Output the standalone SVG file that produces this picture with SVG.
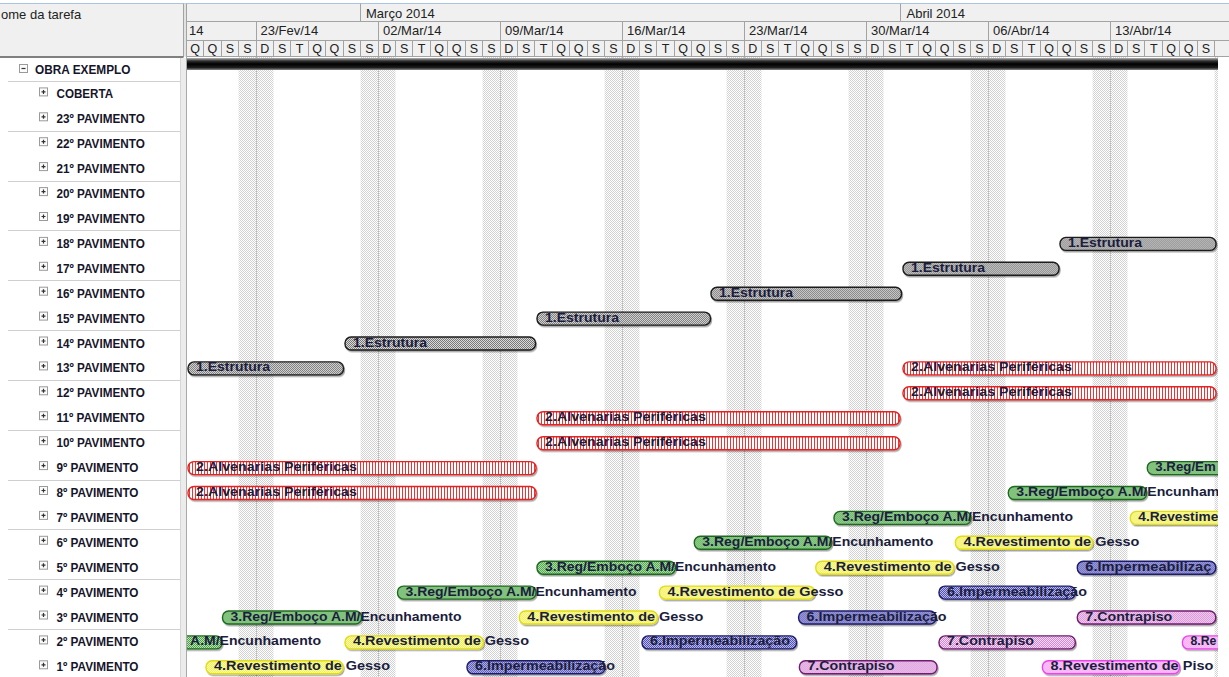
<svg xmlns="http://www.w3.org/2000/svg" width="1229" height="677" viewBox="0 0 1229 677">
<defs>
<style>
.hd{font-family:"Liberation Sans",Arial,sans-serif;font-size:13px;fill:#222}
.dy{font-family:"Liberation Sans",Arial,sans-serif;font-size:12.5px;fill:#222;text-anchor:middle}
.task{font-family:"Liberation Sans",Arial,sans-serif;font-size:12.5px;font-weight:bold;fill:#15152a}
.btn{fill:#fbfbfb;stroke:#9a9a9a;stroke-width:1}
.pm{stroke:#333;stroke-width:1.2;fill:none}
.grid{stroke:#cfcfcf;stroke-width:1}
.hl{stroke:#a3a3a3;stroke-width:1;fill:none}
.wk{fill:url(#pWk)}
.wkl{stroke:#b4b4b4;stroke-width:1;stroke-dasharray:1 1}
.bar rect{stroke-width:1.4;filter:url(#sh)}
.bar text{font-family:"Liberation Sans",Arial,sans-serif;font-size:13.5px;font-weight:bold;fill:#1b1d3d}
.est rect{fill:url(#pEst);stroke:#1c1c1c}
.alv rect{fill:url(#pRed);stroke:#e82020}
.reg rect{fill:url(#pGrn);stroke:#1f6a1f}
.ges rect{fill:url(#pYel);stroke:#e2dc14}
.imp rect{fill:url(#pBlu);stroke:#1e1e6a}
.con rect{fill:url(#pCon);stroke:#701c70}
.pis rect{fill:url(#pPis);stroke:#f040f0}
</style>
<pattern id="pWk" width="2" height="2" patternUnits="userSpaceOnUse"><rect width="2" height="2" fill="#fff"/><rect width="1" height="1" fill="#d2d2d2"/><rect x="1" y="1" width="1" height="1" fill="#d2d2d2"/></pattern>
<pattern id="pEst" width="2" height="2" patternUnits="userSpaceOnUse"><rect width="2" height="2" fill="#dadada"/><rect width="1" height="1" fill="#787878"/><rect x="1" y="1" width="1" height="1" fill="#787878"/></pattern>
<pattern id="pRed" width="3" height="2" patternUnits="userSpaceOnUse"><rect width="3" height="2" fill="#fff"/><rect x="1" width="1" height="2" fill="#f03030"/></pattern>
<pattern id="pGrn" width="2" height="2" patternUnits="userSpaceOnUse"><rect width="2" height="2" fill="#c8ecc0"/><rect width="1" height="1" fill="#3a9a3a"/><rect x="1" y="1" width="1" height="1" fill="#3a9a3a"/></pattern>
<pattern id="pYel" width="2" height="2" patternUnits="userSpaceOnUse"><rect width="2" height="2" fill="#ffffc8"/><rect width="1" height="1" fill="#ecec3c"/><rect x="1" y="1" width="1" height="1" fill="#ecec3c"/></pattern>
<pattern id="pBlu" width="2" height="2" patternUnits="userSpaceOnUse"><rect width="2" height="2" fill="#c4c4f4"/><rect width="1" height="1" fill="#4a4aaa"/><rect x="1" y="1" width="1" height="1" fill="#4a4aaa"/></pattern>
<pattern id="pCon" width="2" height="2" patternUnits="userSpaceOnUse"><rect width="2" height="2" fill="#fde4fd"/><rect width="1" height="1" fill="#cc80cc"/><rect x="1" y="1" width="1" height="1" fill="#cc80cc"/></pattern>
<pattern id="pPis" width="2" height="2" patternUnits="userSpaceOnUse"><rect width="2" height="2" fill="#ffe6ff"/><rect width="1" height="1" fill="#f08cf0"/><rect x="1" y="1" width="1" height="1" fill="#f08cf0"/></pattern>
<linearGradient id="gSum" x1="0" y1="0" x2="0" y2="1">
<stop offset="0" stop-color="#b4b4b4"/><stop offset="0.25" stop-color="#303030"/><stop offset="0.5" stop-color="#000"/><stop offset="0.8" stop-color="#1e1e1e"/><stop offset="1" stop-color="#8c8c8c"/>
</linearGradient>
<filter id="sh" x="-5%" y="-30%" width="110%" height="170%"><feDropShadow dx="1" dy="1.5" stdDeviation="0.4" flood-color="#000" flood-opacity="0.35"/></filter>
<clipPath id="chartClip"><rect x="187" y="56" width="1031" height="621"/></clipPath>
</defs>

<rect width="1229" height="677" fill="#fff"/>

<!-- column headers and timescale -->
<g id="header">
<rect x="0" y="3" width="1229" height="53.5" fill="#f0f0f0"/>
<line x1="0" y1="3.5" x2="1229" y2="3.5" stroke="#a9c4e2"/>
<rect x="183.5" y="3.5" width="3" height="53" fill="#e2e2e2"/>
<line class="hl" x1="183.5" y1="3.5" x2="183.5" y2="57"/>
<rect x="0" y="56" width="183.5" height="2" fill="#808080"/>
<text class="hd" x="1" y="18.5">ome da tarefa</text>
<path class="hl" d="M186.5 3.5V56.5M186.5 21.5H1229M186.5 40.5H1229M186.5 56.5H1229"/>
<path class="hl" d="M360.5 3.5V21.5M900.5 3.5V21.5"/>
<path class="hl" d="M256.5 21.5V40.5M378.5 21.5V40.5M500.5 21.5V40.5M622.5 21.5V40.5M744.5 21.5V40.5M866.5 21.5V40.5M988.5 21.5V40.5M1110.5 21.5V40.5"/>
<path class="hl" d="M203.5 40.5V56.5M221.5 40.5V56.5M238.5 40.5V56.5M256.5 40.5V56.5M273.5 40.5V56.5M290.5 40.5V56.5M308.5 40.5V56.5M325.5 40.5V56.5M343.5 40.5V56.5M360.5 40.5V56.5M378.5 40.5V56.5M395.5 40.5V56.5M412.5 40.5V56.5M430.5 40.5V56.5M447.5 40.5V56.5M465.5 40.5V56.5M482.5 40.5V56.5M500.5 40.5V56.5M517.5 40.5V56.5M534.5 40.5V56.5M552.5 40.5V56.5M569.5 40.5V56.5M587.5 40.5V56.5M604.5 40.5V56.5M622.5 40.5V56.5M639.5 40.5V56.5M656.5 40.5V56.5M674.5 40.5V56.5M691.5 40.5V56.5M709.5 40.5V56.5M726.5 40.5V56.5M744.5 40.5V56.5M761.5 40.5V56.5M778.5 40.5V56.5M796.5 40.5V56.5M813.5 40.5V56.5M831.5 40.5V56.5M848.5 40.5V56.5M866.5 40.5V56.5M883.5 40.5V56.5M900.5 40.5V56.5M918.5 40.5V56.5M935.5 40.5V56.5M953.5 40.5V56.5M970.5 40.5V56.5M988.5 40.5V56.5M1005.5 40.5V56.5M1022.5 40.5V56.5M1040.5 40.5V56.5M1057.5 40.5V56.5M1075.5 40.5V56.5M1092.5 40.5V56.5M1110.5 40.5V56.5M1127.5 40.5V56.5M1144.5 40.5V56.5M1162.5 40.5V56.5M1179.5 40.5V56.5M1197.5 40.5V56.5M1214.5 40.5V56.5"/>
<text class="hd" x="366" y="17.5">Março 2014</text>
<text class="hd" x="906.5" y="17.5">Abril 2014</text>
<text class="hd" x="189" y="35">14</text>
<text class="hd" x="260.5" y="35">23/Fev/14</text>
<text class="hd" x="383" y="35">02/Mar/14</text>
<text class="hd" x="505" y="35">09/Mar/14</text>
<text class="hd" x="627" y="35">16/Mar/14</text>
<text class="hd" x="749" y="35">23/Mar/14</text>
<text class="hd" x="871" y="35">30/Mar/14</text>
<text class="hd" x="993" y="35">06/Abr/14</text>
<text class="hd" x="1115" y="35">13/Abr/14</text>
<g id="day-letters">
<text class="dy" x="195" y="52.5">Q</text><text class="dy" x="212.4" y="52.5">Q</text><text class="dy" x="229.9" y="52.5">S</text><text class="dy" x="247.3" y="52.5">S</text>
<text class="dy" x="264.7" y="52.5">D</text><text class="dy" x="282.2" y="52.5">S</text><text class="dy" x="299.6" y="52.5">T</text><text class="dy" x="317" y="52.5">Q</text><text class="dy" x="334.4" y="52.5">Q</text><text class="dy" x="351.9" y="52.5">S</text><text class="dy" x="369.3" y="52.5">S</text>
<text class="dy" x="386.7" y="52.5">D</text><text class="dy" x="404.2" y="52.5">S</text><text class="dy" x="421.6" y="52.5">T</text><text class="dy" x="439" y="52.5">Q</text><text class="dy" x="456.5" y="52.5">Q</text><text class="dy" x="473.9" y="52.5">S</text><text class="dy" x="491.3" y="52.5">S</text>
<text class="dy" x="508.7" y="52.5">D</text><text class="dy" x="526.2" y="52.5">S</text><text class="dy" x="543.6" y="52.5">T</text><text class="dy" x="561" y="52.5">Q</text><text class="dy" x="578.5" y="52.5">Q</text><text class="dy" x="595.9" y="52.5">S</text><text class="dy" x="613.3" y="52.5">S</text>
<text class="dy" x="630.8" y="52.5">D</text><text class="dy" x="648.2" y="52.5">S</text><text class="dy" x="665.6" y="52.5">T</text><text class="dy" x="683" y="52.5">Q</text><text class="dy" x="700.5" y="52.5">Q</text><text class="dy" x="717.9" y="52.5">S</text><text class="dy" x="735.3" y="52.5">S</text>
<text class="dy" x="752.8" y="52.5">D</text><text class="dy" x="770.2" y="52.5">S</text><text class="dy" x="787.6" y="52.5">T</text><text class="dy" x="805.1" y="52.5">Q</text><text class="dy" x="822.5" y="52.5">Q</text><text class="dy" x="839.9" y="52.5">S</text><text class="dy" x="857.3" y="52.5">S</text>
<text class="dy" x="874.8" y="52.5">D</text><text class="dy" x="892.2" y="52.5">S</text><text class="dy" x="909.6" y="52.5">T</text><text class="dy" x="927.1" y="52.5">Q</text><text class="dy" x="944.5" y="52.5">Q</text><text class="dy" x="961.9" y="52.5">S</text><text class="dy" x="979.4" y="52.5">S</text>
<text class="dy" x="996.8" y="52.5">D</text><text class="dy" x="1014.2" y="52.5">S</text><text class="dy" x="1031.6" y="52.5">T</text><text class="dy" x="1049.1" y="52.5">Q</text><text class="dy" x="1066.5" y="52.5">Q</text><text class="dy" x="1083.9" y="52.5">S</text><text class="dy" x="1101.4" y="52.5">S</text>
<text class="dy" x="1118.8" y="52.5">D</text><text class="dy" x="1136.2" y="52.5">S</text><text class="dy" x="1153.7" y="52.5">T</text><text class="dy" x="1171.1" y="52.5">Q</text><text class="dy" x="1188.5" y="52.5">Q</text><text class="dy" x="1205.9" y="52.5">S</text>
</g>
</g>

<!-- non-working days (Saturday + Sunday) -->
<g id="calendar">
<rect class="wk" x="238.6" y="57" width="34.9" height="620"/>
<rect class="wk" x="360.6" y="57" width="34.9" height="620"/>
<rect class="wk" x="482.6" y="57" width="34.9" height="620"/>
<rect class="wk" x="604.6" y="57" width="34.9" height="620"/>
<rect class="wk" x="726.6" y="57" width="34.9" height="620"/>
<rect class="wk" x="848.6" y="57" width="34.9" height="620"/>
<rect class="wk" x="970.6" y="57" width="34.9" height="620"/>
<rect class="wk" x="1092.6" y="57" width="34.9" height="620"/>
<rect class="wk" x="1214.6" y="57" width="3.4" height="620"/>
<path class="wkl" d="M256.5 57V677M378.5 57V677M500.5 57V677M622.5 57V677M744.5 57V677M866.5 57V677M988.5 57V677M1110.5 57V677"/>
</g>

<!-- task list panel -->
<g id="task-list">
<rect x="180.5" y="58" width="6" height="619" fill="#ececec"/>
<line x1="186.5" y1="56" x2="186.5" y2="677" stroke="#a8a8a8"/>
<line x1="180.5" y1="58" x2="180.5" y2="677" stroke="#d6d6d6"/>
<path class="grid" d="M8 81.5H180M8 131.5H180M8 181.5H180M8 230.5H180M8 280.5H180M8 330.5H180M8 380.5H180M8 430.5H180M8 480.5H180M8 529.5H180M8 579.5H180M8 629.5H180"/>
<g id="task-obra" transform="translate(0,69)"><rect class="btn" x="19.5" y="-4.5" width="8" height="8"/><path class="pm" d="M21.5 -0.5h4"/><text class="task" x="35" y="4.5" textLength="95.5" lengthAdjust="spacingAndGlyphs">OBRA EXEMPLO</text></g>
<g id="task-coberta" transform="translate(0,93.9)"><rect class="btn" x="39.5" y="-6" width="8" height="8"/><path class="pm" d="M41.5 -2h4M43.5 -4v4"/><text class="task" x="56.5" y="4.5" textLength="56.6" lengthAdjust="spacingAndGlyphs">COBERTA</text></g>
<g id="task-p23" transform="translate(0,118.8)"><rect class="btn" x="39.5" y="-6" width="8" height="8"/><path class="pm" d="M41.5 -2h4M43.5 -4v4"/><text class="task" x="56.5" y="4.5" textLength="88.3" lengthAdjust="spacingAndGlyphs">23º PAVIMENTO</text></g>
<g id="task-p22" transform="translate(0,143.7)"><rect class="btn" x="39.5" y="-6" width="8" height="8"/><path class="pm" d="M41.5 -2h4M43.5 -4v4"/><text class="task" x="56.5" y="4.5" textLength="88.3" lengthAdjust="spacingAndGlyphs">22º PAVIMENTO</text></g>
<g id="task-p21" transform="translate(0,168.6)"><rect class="btn" x="39.5" y="-6" width="8" height="8"/><path class="pm" d="M41.5 -2h4M43.5 -4v4"/><text class="task" x="56.5" y="4.5" textLength="88.3" lengthAdjust="spacingAndGlyphs">21º PAVIMENTO</text></g>
<g id="task-p20" transform="translate(0,193.6)"><rect class="btn" x="39.5" y="-6" width="8" height="8"/><path class="pm" d="M41.5 -2h4M43.5 -4v4"/><text class="task" x="56.5" y="4.5" textLength="88.3" lengthAdjust="spacingAndGlyphs">20º PAVIMENTO</text></g>
<g id="task-p19" transform="translate(0,218.5)"><rect class="btn" x="39.5" y="-6" width="8" height="8"/><path class="pm" d="M41.5 -2h4M43.5 -4v4"/><text class="task" x="56.5" y="4.5" textLength="88.3" lengthAdjust="spacingAndGlyphs">19º PAVIMENTO</text></g>
<g id="task-p18" transform="translate(0,243.4)"><rect class="btn" x="39.5" y="-6" width="8" height="8"/><path class="pm" d="M41.5 -2h4M43.5 -4v4"/><text class="task" x="56.5" y="4.5" textLength="88.3" lengthAdjust="spacingAndGlyphs">18º PAVIMENTO</text></g>
<g id="task-p17" transform="translate(0,268.3)"><rect class="btn" x="39.5" y="-6" width="8" height="8"/><path class="pm" d="M41.5 -2h4M43.5 -4v4"/><text class="task" x="56.5" y="4.5" textLength="88.3" lengthAdjust="spacingAndGlyphs">17º PAVIMENTO</text></g>
<g id="task-p16" transform="translate(0,293.2)"><rect class="btn" x="39.5" y="-6" width="8" height="8"/><path class="pm" d="M41.5 -2h4M43.5 -4v4"/><text class="task" x="56.5" y="4.5" textLength="88.3" lengthAdjust="spacingAndGlyphs">16º PAVIMENTO</text></g>
<g id="task-p15" transform="translate(0,318.1)"><rect class="btn" x="39.5" y="-6" width="8" height="8"/><path class="pm" d="M41.5 -2h4M43.5 -4v4"/><text class="task" x="56.5" y="4.5" textLength="88.3" lengthAdjust="spacingAndGlyphs">15º PAVIMENTO</text></g>
<g id="task-p14" transform="translate(0,343)"><rect class="btn" x="39.5" y="-6" width="8" height="8"/><path class="pm" d="M41.5 -2h4M43.5 -4v4"/><text class="task" x="56.5" y="4.5" textLength="88.3" lengthAdjust="spacingAndGlyphs">14º PAVIMENTO</text></g>
<g id="task-p13" transform="translate(0,367.9)"><rect class="btn" x="39.5" y="-6" width="8" height="8"/><path class="pm" d="M41.5 -2h4M43.5 -4v4"/><text class="task" x="56.5" y="4.5" textLength="88.3" lengthAdjust="spacingAndGlyphs">13º PAVIMENTO</text></g>
<g id="task-p12" transform="translate(0,392.8)"><rect class="btn" x="39.5" y="-6" width="8" height="8"/><path class="pm" d="M41.5 -2h4M43.5 -4v4"/><text class="task" x="56.5" y="4.5" textLength="88.3" lengthAdjust="spacingAndGlyphs">12º PAVIMENTO</text></g>
<g id="task-p11" transform="translate(0,417.7)"><rect class="btn" x="39.5" y="-6" width="8" height="8"/><path class="pm" d="M41.5 -2h4M43.5 -4v4"/><text class="task" x="56.5" y="4.5" textLength="88.3" lengthAdjust="spacingAndGlyphs">11º PAVIMENTO</text></g>
<g id="task-p10" transform="translate(0,442.7)"><rect class="btn" x="39.5" y="-6" width="8" height="8"/><path class="pm" d="M41.5 -2h4M43.5 -4v4"/><text class="task" x="56.5" y="4.5" textLength="88.3" lengthAdjust="spacingAndGlyphs">10º PAVIMENTO</text></g>
<g id="task-p9" transform="translate(0,467.6)"><rect class="btn" x="39.5" y="-6" width="8" height="8"/><path class="pm" d="M41.5 -2h4M43.5 -4v4"/><text class="task" x="56.5" y="4.5" textLength="82" lengthAdjust="spacingAndGlyphs">9º PAVIMENTO</text></g>
<g id="task-p8" transform="translate(0,492.5)"><rect class="btn" x="39.5" y="-6" width="8" height="8"/><path class="pm" d="M41.5 -2h4M43.5 -4v4"/><text class="task" x="56.5" y="4.5" textLength="82" lengthAdjust="spacingAndGlyphs">8º PAVIMENTO</text></g>
<g id="task-p7" transform="translate(0,517.4)"><rect class="btn" x="39.5" y="-6" width="8" height="8"/><path class="pm" d="M41.5 -2h4M43.5 -4v4"/><text class="task" x="56.5" y="4.5" textLength="82" lengthAdjust="spacingAndGlyphs">7º PAVIMENTO</text></g>
<g id="task-p6" transform="translate(0,542.3)"><rect class="btn" x="39.5" y="-6" width="8" height="8"/><path class="pm" d="M41.5 -2h4M43.5 -4v4"/><text class="task" x="56.5" y="4.5" textLength="82" lengthAdjust="spacingAndGlyphs">6º PAVIMENTO</text></g>
<g id="task-p5" transform="translate(0,567.2)"><rect class="btn" x="39.5" y="-6" width="8" height="8"/><path class="pm" d="M41.5 -2h4M43.5 -4v4"/><text class="task" x="56.5" y="4.5" textLength="82" lengthAdjust="spacingAndGlyphs">5º PAVIMENTO</text></g>
<g id="task-p4" transform="translate(0,592.1)"><rect class="btn" x="39.5" y="-6" width="8" height="8"/><path class="pm" d="M41.5 -2h4M43.5 -4v4"/><text class="task" x="56.5" y="4.5" textLength="82" lengthAdjust="spacingAndGlyphs">4º PAVIMENTO</text></g>
<g id="task-p3" transform="translate(0,617)"><rect class="btn" x="39.5" y="-6" width="8" height="8"/><path class="pm" d="M41.5 -2h4M43.5 -4v4"/><text class="task" x="56.5" y="4.5" textLength="82" lengthAdjust="spacingAndGlyphs">3º PAVIMENTO</text></g>
<g id="task-p2" transform="translate(0,641.9)"><rect class="btn" x="39.5" y="-6" width="8" height="8"/><path class="pm" d="M41.5 -2h4M43.5 -4v4"/><text class="task" x="56.5" y="4.5" textLength="82" lengthAdjust="spacingAndGlyphs">2º PAVIMENTO</text></g>
<g id="task-p1" transform="translate(0,666.8)"><rect class="btn" x="39.5" y="-6" width="8" height="8"/><path class="pm" d="M41.5 -2h4M43.5 -4v4"/><text class="task" x="56.5" y="4.5" textLength="82" lengthAdjust="spacingAndGlyphs">1º PAVIMENTO</text></g>
</g>

<!-- project summary bar -->
<g id="summary-obra">
<rect x="187" y="58" width="1031" height="12" fill="url(#gSum)"/>
</g>

<!-- task bars (the chart viewport ends at x=1218) -->
<g id="bars" clip-path="url(#chartClip)">
<!-- 1.Estrutura -->
<g id="p18-estrutura" class="bar est" transform="translate(1060,243.4)"><rect y="-6" width="156" height="13" rx="6"/><text x="8" y="3.5" textLength="74" lengthAdjust="spacingAndGlyphs">1.Estrutura</text></g>
<g id="p17-estrutura" class="bar est" transform="translate(903,268.3)"><rect y="-6" width="156" height="13" rx="6"/><text x="8" y="3.5" textLength="74" lengthAdjust="spacingAndGlyphs">1.Estrutura</text></g>
<g id="p16-estrutura" class="bar est" transform="translate(711,293.2)"><rect y="-6" width="190.5" height="13" rx="6"/><text x="8" y="3.5" textLength="74" lengthAdjust="spacingAndGlyphs">1.Estrutura</text></g>
<g id="p15-estrutura" class="bar est" transform="translate(537,318.1)"><rect y="-6" width="173.5" height="13" rx="6"/><text x="8" y="3.5" textLength="74" lengthAdjust="spacingAndGlyphs">1.Estrutura</text></g>
<g id="p14-estrutura" class="bar est" transform="translate(345,343)"><rect y="-6" width="190.5" height="13" rx="6"/><text x="8" y="3.5" textLength="74" lengthAdjust="spacingAndGlyphs">1.Estrutura</text></g>
<g id="p13-estrutura" class="bar est" transform="translate(188,367.9)"><rect y="-6" width="155.5" height="13" rx="6"/><text x="8" y="3.5" textLength="74" lengthAdjust="spacingAndGlyphs">1.Estrutura</text></g>
<!-- 2.Alvenarias Periféricas -->
<g id="p13-alvenarias" class="bar alv" transform="translate(903,367.9)"><rect y="-6" width="313" height="13" rx="6"/><text x="8" y="3.5" textLength="161" lengthAdjust="spacingAndGlyphs">2.Alvenarias Periféricas</text></g>
<g id="p12-alvenarias" class="bar alv" transform="translate(903,392.8)"><rect y="-6" width="313" height="13" rx="6"/><text x="8" y="3.5" textLength="161" lengthAdjust="spacingAndGlyphs">2.Alvenarias Periféricas</text></g>
<g id="p11-alvenarias" class="bar alv" transform="translate(537,417.7)"><rect y="-6" width="363" height="13" rx="6"/><text x="8" y="3.5" textLength="161" lengthAdjust="spacingAndGlyphs">2.Alvenarias Periféricas</text></g>
<g id="p10-alvenarias" class="bar alv" transform="translate(537,442.7)"><rect y="-6" width="363" height="13" rx="6"/><text x="8" y="3.5" textLength="161" lengthAdjust="spacingAndGlyphs">2.Alvenarias Periféricas</text></g>
<g id="p9-alvenarias" class="bar alv" transform="translate(188,467.6)"><rect y="-6" width="348" height="13" rx="6"/><text x="8" y="3.5" textLength="161" lengthAdjust="spacingAndGlyphs">2.Alvenarias Periféricas</text></g>
<g id="p8-alvenarias" class="bar alv" transform="translate(188,492.5)"><rect y="-6" width="348" height="13" rx="6"/><text x="8" y="3.5" textLength="161" lengthAdjust="spacingAndGlyphs">2.Alvenarias Periféricas</text></g>
<!-- 3.Reg/Emboço A.M/Encunhamento -->
<g id="p9-emboco" class="bar reg" transform="translate(1147.3,467.6)"><rect y="-6" width="138.5" height="13" rx="6"/><text x="8" y="3.5" textLength="60.4" lengthAdjust="spacingAndGlyphs">3.Reg/Em</text></g>
<g id="p8-emboco" class="bar reg" transform="translate(1008.3,492.5)"><rect y="-6" width="138.4" height="13" rx="6"/><text x="8" y="3.5" textLength="203" lengthAdjust="spacingAndGlyphs">3.Reg/Emboço A.M/Encunham</text></g>
<g id="p7-emboco" class="bar reg" transform="translate(834,517.4)"><rect y="-6" width="137" height="13" rx="6"/><text x="8" y="3.5" textLength="231" lengthAdjust="spacingAndGlyphs">3.Reg/Emboço A.M/Encunhamento</text></g>
<g id="p6-emboco" class="bar reg" transform="translate(694.3,542.3)"><rect y="-6" width="137.5" height="13" rx="6"/><text x="8" y="3.5" textLength="231" lengthAdjust="spacingAndGlyphs">3.Reg/Emboço A.M/Encunhamento</text></g>
<g id="p5-emboco" class="bar reg" transform="translate(537,567.2)"><rect y="-6" width="138.4" height="13" rx="6"/><text x="8" y="3.5" textLength="231" lengthAdjust="spacingAndGlyphs">3.Reg/Emboço A.M/Encunhamento</text></g>
<g id="p4-emboco" class="bar reg" transform="translate(397.5,592.1)"><rect y="-6" width="138.5" height="13" rx="6"/><text x="8" y="3.5" textLength="231" lengthAdjust="spacingAndGlyphs">3.Reg/Emboço A.M/Encunhamento</text></g>
<g id="p3-emboco" class="bar reg" transform="translate(222.5,617)"><rect y="-6" width="139" height="13" rx="6"/><text x="8" y="3.5" textLength="231" lengthAdjust="spacingAndGlyphs">3.Reg/Emboço A.M/Encunhamento</text></g>
<g id="p2-emboco" class="bar reg" transform="translate(80,641.9)"><rect y="-6" width="142" height="13" rx="6"/><text x="110" y="3.5" textLength="131" lengthAdjust="spacingAndGlyphs">A.M/Encunhamento</text></g>
<!-- 4.Revestimento de Gesso -->
<g id="p7-gesso" class="bar ges" transform="translate(1130.3,517.4)"><rect y="-6" width="138" height="13" rx="6"/><text x="8" y="3.5" textLength="80" lengthAdjust="spacingAndGlyphs">4.Revestime</text></g>
<g id="p6-gesso" class="bar ges" transform="translate(955.4,542.3)"><rect y="-6" width="137.2" height="13" rx="6"/><text x="8" y="3.5" textLength="176" lengthAdjust="spacingAndGlyphs">4.Revestimento de Gesso</text></g>
<g id="p5-gesso" class="bar ges" transform="translate(815.8,567.2)"><rect y="-6" width="138" height="13" rx="6"/><text x="8" y="3.5" textLength="176" lengthAdjust="spacingAndGlyphs">4.Revestimento de Gesso</text></g>
<g id="p4-gesso" class="bar ges" transform="translate(659.4,592.1)"><rect y="-6" width="155.2" height="13" rx="6"/><text x="8" y="3.5" textLength="176" lengthAdjust="spacingAndGlyphs">4.Revestimento de Gesso</text></g>
<g id="p3-gesso" class="bar ges" transform="translate(519.3,617)"><rect y="-6" width="138" height="13" rx="6"/><text x="8" y="3.5" textLength="176" lengthAdjust="spacingAndGlyphs">4.Revestimento de Gesso</text></g>
<g id="p2-gesso" class="bar ges" transform="translate(345,641.9)"><rect y="-6" width="138.3" height="13" rx="6"/><text x="8" y="3.5" textLength="176" lengthAdjust="spacingAndGlyphs">4.Revestimento de Gesso</text></g>
<g id="p1-gesso" class="bar ges" transform="translate(206,666.8)"><rect y="-6" width="137" height="13" rx="6"/><text x="8" y="3.5" textLength="176" lengthAdjust="spacingAndGlyphs">4.Revestimento de Gesso</text></g>
<!-- 6.Impermeabilização -->
<g id="p5-imper" class="bar imp" transform="translate(1077.3,567.2)"><rect y="-6" width="138.4" height="13" rx="6"/><text x="8" y="3.5" textLength="126" lengthAdjust="spacingAndGlyphs">6.Impermeabilizaç</text></g>
<g id="p4-imper" class="bar imp" transform="translate(939,592.1)"><rect y="-6" width="136.3" height="13" rx="6"/><text x="8" y="3.5" textLength="140" lengthAdjust="spacingAndGlyphs">6.Impermeabilização</text></g>
<g id="p3-imper" class="bar imp" transform="translate(798.6,617)"><rect y="-6" width="137.4" height="13" rx="6"/><text x="8" y="3.5" textLength="140" lengthAdjust="spacingAndGlyphs">6.Impermeabilização</text></g>
<g id="p2-imper" class="bar imp" transform="translate(642,641.9)"><rect y="-6" width="154.5" height="13" rx="6"/><text x="8" y="3.5" textLength="140" lengthAdjust="spacingAndGlyphs">6.Impermeabilização</text></g>
<g id="p1-imper" class="bar imp" transform="translate(467,666.8)"><rect y="-6" width="138" height="13" rx="6"/><text x="8" y="3.5" textLength="140" lengthAdjust="spacingAndGlyphs">6.Impermeabilização</text></g>
<!-- 7.Contrapiso -->
<g id="p3-contrapiso" class="bar con" transform="translate(1077.3,617)"><rect y="-6" width="138.4" height="13" rx="6"/><text x="8" y="3.5" textLength="87" lengthAdjust="spacingAndGlyphs">7.Contrapiso</text></g>
<g id="p2-contrapiso" class="bar con" transform="translate(939,641.9)"><rect y="-6" width="136.3" height="13" rx="6"/><text x="8" y="3.5" textLength="87" lengthAdjust="spacingAndGlyphs">7.Contrapiso</text></g>
<g id="p1-contrapiso" class="bar con" transform="translate(799.4,666.8)"><rect y="-6" width="137.6" height="13" rx="6"/><text x="8" y="3.5" textLength="87" lengthAdjust="spacingAndGlyphs">7.Contrapiso</text></g>
<!-- 8.Revestimento de Piso -->
<g id="p2-piso" class="bar pis" transform="translate(1182.4,641.9)"><rect y="-6" width="137" height="13" rx="6"/><text x="8" y="3.5" textLength="26" lengthAdjust="spacingAndGlyphs">8.Re</text></g>
<g id="p1-piso" class="bar pis" transform="translate(1042.4,666.8)"><rect y="-6" width="137.2" height="13" rx="6"/><text x="8" y="3.5" textLength="163" lengthAdjust="spacingAndGlyphs">8.Revestimento de Piso</text></g>
</g>

<!-- no dependency links are drawn in this view -->
<g id="connectors"/>
</svg>
